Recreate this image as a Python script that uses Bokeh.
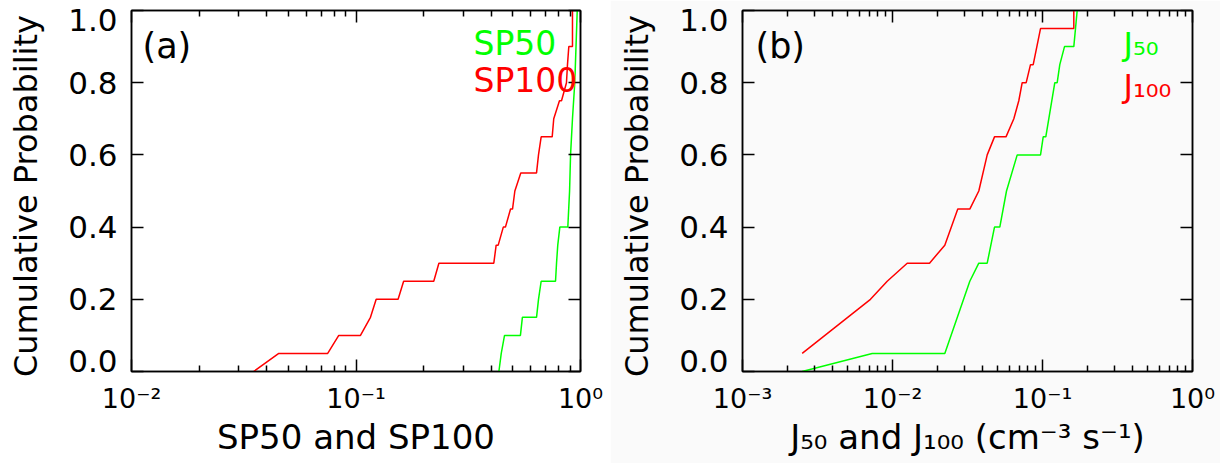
import math
from bokeh.plotting import figure
from bokeh.layouts import row
from bokeh.models import (LogAxis, LinearAxis, FixedTicker, CustomJSTickFormatter,
                          Label, Range1d)
from bokeh.embed import file_html
from bokeh.resources import INLINE

# ---------------- data ----------------
sp100_x = [0.035, 0.0453, 0.0748, 0.0838, 0.1047, 0.116, 0.123, 0.154, 0.163, 0.222,
           0.234, 0.411, 0.421, 0.430, 0.453, 0.463, 0.488, 0.498, 0.510, 0.542,
           0.637, 0.650, 0.668, 0.748, 0.760, 0.806, 0.823, 0.866, 0.875, 0.887,
           0.921, 0.921]
sp100_y = [0.00, 0.05, 0.05, 0.10, 0.10, 0.15, 0.20, 0.20, 0.25, 0.25,
           0.30, 0.30, 0.35, 0.35, 0.40, 0.40, 0.45, 0.45, 0.50, 0.55,
           0.55, 0.60, 0.65, 0.65, 0.70, 0.75, 0.75, 0.80, 0.85, 0.90,
           0.90, 1.00]

sp50_x = [0.433, 0.4436, 0.4588, 0.540, 0.551, 0.637, 0.650, 0.668, 0.774, 0.782,
          0.792, 0.809, 0.878, 0.894, 0.903, 0.921, 0.943, 0.955, 0.967]
sp50_y = [0.00, 0.05, 0.10, 0.10, 0.15, 0.15, 0.20, 0.25, 0.25, 0.30,
          0.35, 0.40, 0.40, 0.50, 0.60, 0.70, 0.80, 0.90, 1.00]

j100_x = [0.00250, 0.00713, 0.00922, 0.01253, 0.01765, 0.02232, 0.02724, 0.03276,
          0.03761, 0.04279, 0.04786, 0.05710, 0.0644, 0.0695, 0.07321, 0.07785,
          0.08318, 0.0867, 0.0970, 0.1617, 0.1617]
j100_y = [0.05, 0.20, 0.25, 0.30, 0.30, 0.35, 0.45, 0.45,
          0.50, 0.60, 0.65, 0.65, 0.70, 0.75, 0.80, 0.80,
          0.85, 0.85, 0.95, 0.95, 1.00]

j50_x = [0.00250, 0.00732, 0.02232, 0.03276, 0.03761, 0.04279, 0.04786, 0.05192,
         0.05754, 0.06783, 0.0970, 0.1011, 0.1052, 0.1208, 0.1253, 0.1304, 0.1402,
         0.1617, 0.1703]
j50_y = [0.00, 0.05, 0.05, 0.25, 0.30, 0.30, 0.40, 0.40,
         0.50, 0.60, 0.60, 0.65, 0.65, 0.80, 0.80, 0.85, 0.90,
         0.90, 1.00]

y_ticks = [0.0, 0.2, 0.4, 0.6, 0.8, 1.0]
y_tick_labels = ["0.0", "0.2", "0.4", "0.6", "0.8", "1.0"]
y_title = "Cumulative  Probability"

panel_a_range = (1e-2, 1e0)
panel_b_range = (1e-3, 1e0)
panel_a_tag = "(a)"
panel_b_tag = "(b)"
panel_a_xtitle = "SP50 and SP100"
panel_b_xtitle = "J\u2085\u2080 and J\u2081\u2080\u2080 (cm\u207b\u00b3 s\u207b\u00b9)"
panel_a_names = ["SP50", "SP100"]
panel_b_names = ["J\u2085\u2080", "J\u2081\u2080\u2080"]

GREEN = "#00ff00"
RED = "#ff0000"
FONT = "DejaVu Sans"

LOG_FMT_CODE = """
const e = Math.round(Math.log10(tick));
const sup = {'-':'\u207b','0':'\u2070','1':'\u00b9','2':'\u00b2','3':'\u00b3'};
return '10' + String(e).split('').map(c => sup[c]).join('');
"""


def blank():
    return CustomJSTickFormatter(code="return '';")


def style_axis(ax):
    ax.axis_line_color = "black"
    ax.axis_line_width = 1.5
    ax.major_tick_line_color = "black"
    ax.major_tick_line_width = 1.5
    ax.minor_tick_line_color = "black"
    ax.minor_tick_line_width = 1.5
    ax.major_tick_in = 12
    ax.major_tick_out = 0
    ax.minor_tick_in = 6
    ax.minor_tick_out = 0


def make_panel(width, left, right, xr, bg, series, tag, xtitle, names,
               tag_off, leg_off, leg_dy, leg_size):
    x0, x1 = xr
    p = figure(width=width, height=463, x_axis_type="log",
               x_range=Range1d(x0, x1), y_range=Range1d(0, 1),
               min_border_left=left, min_border_right=right,
               min_border_top=10, min_border_bottom=92,
               output_backend="svg", toolbar_location=None,
               background_fill_color=bg, border_fill_color=bg)
    p.grid.visible = False
    p.outline_line_color = "black"
    p.outline_line_width = 1.5

    e0, e1 = round(math.log10(x0)), round(math.log10(x1))
    majors = [10.0 ** e for e in range(e0, e1 + 1)]
    minors = [m * 10.0 ** e for e in range(e0, e1) for m in range(2, 10)]

    # bottom axis: ticks, labels and title
    xa = p.xaxis[0]
    xa.ticker = FixedTicker(ticks=majors, minor_ticks=minors)
    xa.formatter = CustomJSTickFormatter(code=LOG_FMT_CODE)
    style_axis(xa)
    xa.major_label_standoff = 11
    xa.major_label_text_font = FONT
    xa.major_label_text_font_size = "27px"
    xa.major_label_text_color = "black"
    xa.axis_label = xtitle
    xa.axis_label_standoff = 0
    xa.axis_label_text_font = FONT
    xa.axis_label_text_font_size = "34px"
    xa.axis_label_text_font_style = "normal"
    xa.axis_label_text_color = "black"

    # top axis: ticks only
    top = LogAxis(ticker=FixedTicker(ticks=majors, minor_ticks=minors),
                  formatter=blank(), major_label_standoff=0,
                  major_label_text_font_size="0px")
    style_axis(top)
    p.add_layout(top, "above")

    # left axis: ticks only
    ya = p.yaxis[0]
    ya.ticker = FixedTicker(ticks=y_ticks, minor_ticks=[])
    ya.formatter = blank()
    ya.major_label_standoff = 0
    ya.major_label_text_font_size = "0px"
    style_axis(ya)

    # left label axis: IDL-style labels (end labels kept inside the frame height)
    lab_pos = [t + (0.030 if i == 0 else (-0.025 if i == len(y_ticks) - 1 else 0.0))
               for i, t in enumerate(y_ticks)]
    la = LinearAxis(ticker=FixedTicker(ticks=lab_pos, minor_ticks=[]),
                    formatter=CustomJSTickFormatter(args=dict(labels=y_tick_labels),
                                                    code="return labels[index];"),
                    axis_line_color=None, major_tick_in=0, major_tick_out=0,
                    minor_tick_in=0, minor_tick_out=0,
                    major_label_standoff=14,
                    major_label_text_font=FONT, major_label_text_font_size="31px",
                    major_label_text_color="black",
                    axis_label=y_title, axis_label_standoff=20,
                    axis_label_text_font=FONT, axis_label_text_font_size="32px",
                    axis_label_text_font_style="normal",
                    axis_label_text_color="black")
    p.add_layout(la, "left")

    # right axis: ticks only
    rt = LinearAxis(ticker=FixedTicker(ticks=y_ticks, minor_ticks=[]),
                    formatter=blank(), major_label_standoff=0,
                    major_label_text_font_size="0px")
    style_axis(rt)
    p.add_layout(rt, "right")

    for (xs, ys, col) in series:
        p.line(xs, ys, line_color=col, line_width=1.5)

    # panel tag
    p.add_layout(Label(x=x0, y=1, text=tag, x_offset=tag_off, y_offset=-35,
                       text_align="left", text_baseline="alphabetic",
                       text_font=FONT, text_font_size="35px",
                       text_color="black"))

    # legend texts
    for i, (nm, col) in enumerate(zip(names, [GREEN, RED])):
        p.add_layout(Label(x=x1, y=1, text=nm, x_offset=leg_off,
                           y_offset=-33 - i * leg_dy,
                           text_align="left", text_baseline="alphabetic",
                           text_font=FONT, text_font_size=leg_size,
                           text_color=col))
    return p


pa = make_panel(610, 131, 30, panel_a_range, "white",
                [(sp100_x, sp100_y, RED), (sp50_x, sp50_y, GREEN)],
                panel_a_tag, panel_a_xtitle, panel_a_names,
                tag_off=11, leg_off=-107, leg_dy=37, leg_size="33px")
pb = make_panel(610, 132, 28, panel_b_range, "#fafafa",
                [(j100_x, j100_y, RED), (j50_x, j50_y, GREEN)],
                panel_b_tag, panel_b_xtitle, panel_b_names,
                tag_off=13, leg_off=-69, leg_dy=42, leg_size="32px")

layout = row(pa, pb)
open("out.html", "w").write(file_html(layout, INLINE))
